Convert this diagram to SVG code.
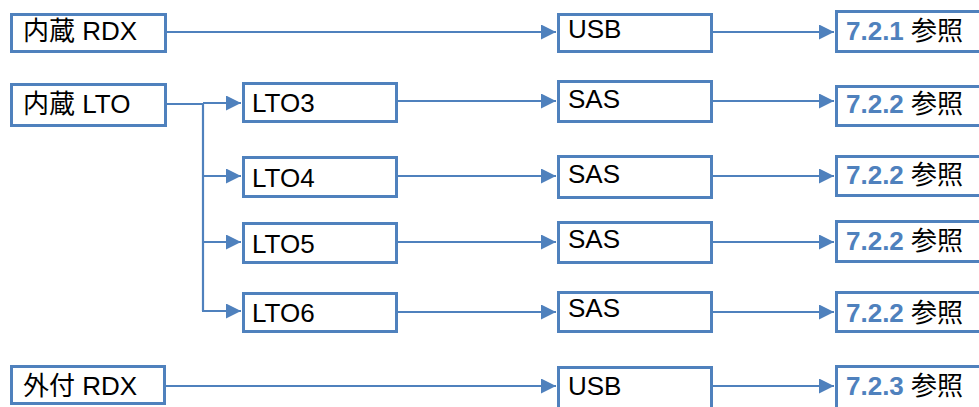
<svg xmlns="http://www.w3.org/2000/svg" width="979" height="407" viewBox="0 0 979 407">
<style>
  .box { fill: #ffffff; stroke: #4F81BD; stroke-width: 3; }
  .lbl { font-family: "Liberation Sans", "Noto Sans CJK JP", sans-serif; font-size: 26px; fill: #000000; }
  .ref { font-weight: bold; fill: #4F81BD; }
  .conn { fill: none; stroke: #4F81BD; stroke-width: 2.2; }
  .arr { marker-end: url(#ah); }
</style>
<defs>
  <marker id="ah" markerUnits="userSpaceOnUse" markerWidth="16" markerHeight="16" refX="15" refY="7.5" orient="auto">
    <path d="M0,0 L15,7.5 L0,15 Z" fill="#4F81BD"/>
  </marker>
</defs>
<rect width="979" height="407" fill="#ffffff"/>

<g id="connectors">
  <line class="conn arr" x1="167" y1="32" x2="556" y2="32"/>
  <line class="conn arr" x1="713" y1="32" x2="834" y2="32"/>
  <polyline class="conn" points="167,104 203,104 203,311"/>
  <line class="conn arr" x1="203" y1="103" x2="241" y2="103"/>
  <line class="conn arr" x1="203" y1="176" x2="241" y2="176"/>
  <line class="conn arr" x1="203" y1="242" x2="241" y2="242"/>
  <line class="conn arr" x1="202" y1="311" x2="241" y2="311"/>
  <line class="conn arr" x1="398" y1="101" x2="556" y2="101"/>
  <line class="conn arr" x1="713" y1="101" x2="834" y2="101"/>
  <line class="conn arr" x1="398" y1="176" x2="556" y2="176"/>
  <line class="conn arr" x1="713" y1="176" x2="834" y2="176"/>
  <line class="conn arr" x1="398" y1="242" x2="556" y2="242"/>
  <line class="conn arr" x1="713" y1="242" x2="834" y2="242"/>
  <line class="conn arr" x1="398" y1="312" x2="556" y2="312"/>
  <line class="conn arr" x1="713" y1="312" x2="834" y2="312"/>
  <line class="conn arr" x1="166" y1="386" x2="556" y2="386"/>
  <line class="conn arr" x1="713" y1="386" x2="834" y2="386"/>
</g>

<g id="n-int-rdx"><rect class="box" x="11.5" y="14.5" width="154" height="37"/><text class="lbl" x="23" y="40">内蔵 RDX</text></g>
<g id="n-int-lto"><rect class="box" x="11.5" y="84.5" width="154" height="41"/><text class="lbl" x="23" y="113">内蔵 LTO</text></g>
<g id="n-ext-rdx"><rect class="box" x="11.5" y="366.5" width="153" height="37"/><text class="lbl" x="23" y="395">外付 RDX</text></g>

<g id="n-lto3"><rect class="box" x="243.5" y="83.5" width="153" height="38"/><text class="lbl" x="252" y="112">LTO3</text></g>
<g id="n-lto4"><rect class="box" x="243.5" y="157.5" width="153" height="39"/><text class="lbl" x="252" y="187">LTO4</text></g>
<g id="n-lto5"><rect class="box" x="243.5" y="223.5" width="153" height="39"/><text class="lbl" x="252" y="253">LTO5</text></g>
<g id="n-lto6"><rect class="box" x="243.5" y="293.5" width="153" height="38"/><text class="lbl" x="252" y="322">LTO6</text></g>

<g id="n-usb1"><rect class="box" x="558.5" y="14.5" width="153" height="37"/><text class="lbl" x="568" y="38">USB</text></g>
<g id="n-sas1"><rect class="box" x="558.5" y="81.5" width="153" height="40"/><text class="lbl" x="568" y="108">SAS</text></g>
<g id="n-sas2"><rect class="box" x="558.5" y="156.5" width="153" height="41"/><text class="lbl" x="568" y="183">SAS</text></g>
<g id="n-sas3"><rect class="box" x="558.5" y="222.5" width="153" height="40"/><text class="lbl" x="568" y="248">SAS</text></g>
<g id="n-sas4"><rect class="box" x="558.5" y="292.5" width="153" height="39"/><text class="lbl" x="568" y="317">SAS</text></g>
<g id="n-usb2"><rect class="box" x="558.5" y="367.5" width="153" height="42"/><text class="lbl" x="568" y="395">USB</text></g>

<g id="n-ref1"><rect class="box" x="836.5" y="11.5" width="160" height="40"/><text class="lbl" x="846" y="40"><tspan class="ref">7.2.1</tspan> 参照</text></g>
<g id="n-ref2"><rect class="box" x="836.5" y="86.5" width="160" height="39"/><text class="lbl" x="846" y="113"><tspan class="ref">7.2.2</tspan> 参照</text></g>
<g id="n-ref3"><rect class="box" x="836.5" y="156.5" width="160" height="39"/><text class="lbl" x="846" y="184"><tspan class="ref">7.2.2</tspan> 参照</text></g>
<g id="n-ref4"><rect class="box" x="836.5" y="221.5" width="160" height="40"/><text class="lbl" x="846" y="250"><tspan class="ref">7.2.2</tspan> 参照</text></g>
<g id="n-ref5"><rect class="box" x="836.5" y="292.5" width="160" height="39"/><text class="lbl" x="846" y="322"><tspan class="ref">7.2.2</tspan> 参照</text></g>
<g id="n-ref6"><rect class="box" x="836.5" y="366.5" width="160" height="42"/><text class="lbl" x="846" y="395"><tspan class="ref">7.2.3</tspan> 参照</text></g>
</svg>
